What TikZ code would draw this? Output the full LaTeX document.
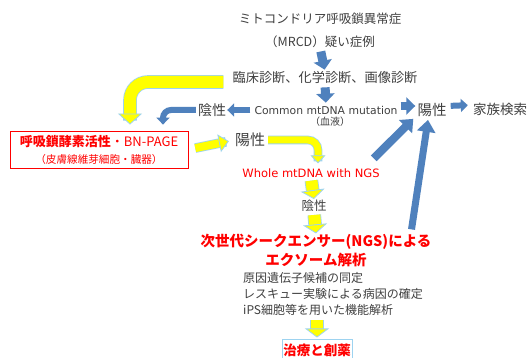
\documentclass[tikz,border=0pt]{standalone}
\usepackage{fontspec}
\setmainfont{Noto Sans CJK JP}
\newfontfamily\lat{DejaVu Sans}
\usetikzlibrary{arrows.meta}
\definecolor{bluA}{HTML}{4F81BD}
\definecolor{yel}{HTML}{FFFF00}
\definecolor{lbl}{HTML}{9DD3F0}
\definecolor{txt}{HTML}{404040}
\definecolor{redA}{HTML}{FF0000}
\tikzset{
  lbl/.style={inner sep=0pt, text=txt},
  barr/.style n args={3}{draw=bluA, line width=#1, -{Triangle[length=#2,width=#3]}},
  yarr/.style n args={5}{draw=yel, line width=#1,
     -{Triangle[length=#2,width=#3,fill=yel,color=lbl,line width=0.8pt]},
     preaction={draw=lbl, line width=#4, -, shorten >=#5}},
}
\begin{document}
\begin{tikzpicture}[x=1pt,y=1pt]
\useasboundingbox (0,0) rectangle (531,-358);
\clip (0,0) rectangle (531,-358);
\fill[white] (0,0) rectangle (531,-358);

% nodes
\node[lbl, font=\fontsize{12.5}{23}\selectfont, align=center] (title) at (320,-30) {ミトコンドリア呼吸鎖異常症\\（MRCD）疑い症例};
\node[lbl, font=\fontsize{13.2}{15}\selectfont] (clin) at (325,-78) {臨床診断、化学診断、画像診断};
\node[lbl, font=\lat\fontsize{10.8}{12}\selectfont] (common) at (326,-110) {Common mtDNA mutation};
\node[lbl, font=\fontsize{10}{12}\selectfont] (blood) at (330,-122) {（血液）};
\node[lbl, font=\fontsize{14}{16}\selectfont] (neg1) at (212,-110) {陰性};
\node[lbl, draw=redA, line width=0.8pt, minimum width=178pt, minimum height=37pt,
      align=center, text=redA, font=\fontsize{13}{17}\selectfont] (box) at (99,-149.5)
  {{\bfseries 呼吸鎖酵素活性}・BN-PAGE\\{\fontsize{10.6}{17}\selectfont （皮膚線維芽細胞・臓器）}};
\node[lbl, font=\fontsize{15}{17}\selectfont] (pos1) at (250,-140) {陽性};
\node[lbl, text=redA, font=\lat\fontsize{11.5}{13}\selectfont] (whole) at (311,-173) {Whole mtDNA with NGS};
\node[lbl, font=\fontsize{12.5}{15}\selectfont] (neg2) at (314,-206) {陰性};
\node[lbl, text=redA, align=center, font=\bfseries\fontsize{14.5}{19}\selectfont] (ngs) at (316,-251)
  {次世代シークエンサー(NGS)による\\エクソーム解析};
\node[lbl, anchor=north west, align=left, font=\fontsize{12}{16}\selectfont] (items) at (243,-272)
  {原因遺伝子候補の同定\\レスキュー実験による病因の確定\\iPS細胞等を用いた機能解析};
\node[lbl, draw=lbl, line width=1pt, minimum width=70pt, minimum height=20pt, text=redA,
      font=\bfseries\fontsize{13.5}{16}\selectfont] (result) at (317,-350) {治療と創薬};
\node[lbl, font=\fontsize{14.5}{16}\selectfont] (pos2) at (432,-110) {陽性};
\node[lbl, font=\fontsize{13.5}{16}\selectfont] (family) at (500,-109) {家族検索};

% blue connectors
\draw[barr={9pt}{9pt}{18pt}, shorten <=4pt, shorten >=2pt] (title.south) -- (clin.north);
\draw[barr={9pt}{9pt}{18pt}, shorten <=3pt, shorten >=3pt] (clin.south) -- (common.north);
\draw[barr={6pt}{7pt}{13pt}, shorten <=4pt, shorten >=1pt] (common.west) -- (neg1.east);
\draw[barr={6pt}{7pt}{13pt}, rounded corners=8pt, shorten <=2pt, shorten >=6pt] (neg1.west) -| ([xshift=64pt]box.north);
\draw[barr={8pt}{9pt}{17pt}, shorten <=3pt, shorten >=2pt] ([yshift=4pt]common.east) -- ([yshift=4pt]pos2.west);
\draw[barr={6pt}{7pt}{13pt}, shorten <=4pt, shorten >=5pt] ([yshift=4pt]pos2.east) -- ([yshift=4pt]family.west);
\draw[barr={8pt}{11pt}{18pt}] ([xshift=-6pt,yshift=10pt]whole.north east) -- ([xshift=-4pt,yshift=-2pt]pos2.south west);
\draw[barr={7pt}{12pt}{18pt}] ([xshift=-20pt,yshift=5pt]ngs.north east) -- ([xshift=-4pt,yshift=-3pt]pos2.south);

% yellow connectors
\draw[yarr={12pt}{11pt}{24pt}{13.6pt}{10pt}, rounded corners=18pt, shorten <=9pt, shorten >=6pt]
  ([yshift=-4pt]clin.west) -| ([xshift=31pt]box.north);
\draw[yarr={8pt}{10pt}{18pt}{9.6pt}{9pt}, shorten <=7pt, shorten >=6pt] (box.east) -- (pos1.west);
\draw[yarr={7pt}{8pt}{15pt}{8.6pt}{7pt}, rounded corners=10pt, shorten <=3pt, shorten >=5pt]
  (pos1.east) -| ([xshift=7pt]whole.north);
\draw[yarr={12pt}{9pt}{24pt}{13.6pt}{8pt}, shorten <=3pt, shorten >=1pt] (whole.south) -- (neg2.north);
\draw[yarr={12pt}{9pt}{24pt}{13.6pt}{8pt}, shorten <=3pt, shorten >=1pt] (neg2.south) -- (ngs.north);
\draw[yarr={12pt}{9pt}{24pt}{13.6pt}{8pt}, shorten <=5pt, shorten >=2pt] ([xshift=74pt]items.south west) -- (result.north);
\end{tikzpicture}
\end{document}
